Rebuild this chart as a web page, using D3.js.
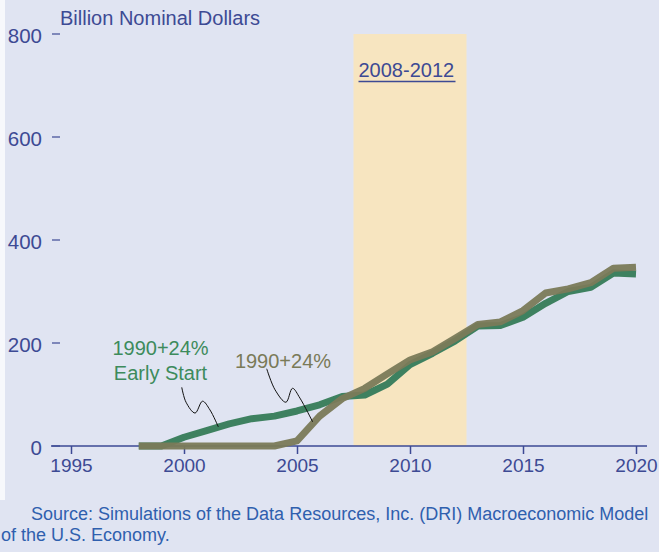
<!DOCTYPE html>
<html>
<head>
<meta charset="utf-8">
<script src="https://cdn.jsdelivr.net/npm/d3@7"></script>
<style>
  body { margin: 0; background: #ffffff; }
  svg { display: block; font-family: "Liberation Sans", Arial, sans-serif; }
</style>
</head>
<body>
<svg id="canvas"></svg>
<script>
// data
let years = d3.range(1998, 2021)
let earlyStart = [0, 0, 17, 30, 43, 53, 58, 68, 80, 96, 99, 120, 158, 180, 204, 233, 234, 250, 277, 300, 308, 336, 334]
let base = [0, 0, 0, 0, 0, 0, 0, 10, 58, 92, 112, 140, 167, 183, 209, 236, 241, 263, 297, 305, 317, 345, 347]
let yTicks = [0, 200, 400, 600, 800]
let xTicks = [1995, 2000, 2005, 2010, 2015, 2020]
let period = [2007.5, 2012.5]

// leader lines for the labels, in year / value units
let leaderEarly = [[1999.90, 114], [2000.09, 85], [2000.49, 64], [2000.82, 87], [2001.15, 70], [2001.52, 37]]
let leaderBase = [[2003.66, 150], [2004.03, 109], [2004.51, 85], [2004.80, 112], [2005.13, 93], [2005.69, 47]]

const width = 659
const height = 552

let canvas = d3.select('#canvas')
canvas.attr('width', width)
canvas.attr('height', height)

const axisColor = '#3d4a94'
const greenColor = '#3e8160'
const oliveColor = '#7a7a58'

let xScale = d3.scaleLinear().domain([1995, 2020]).range([71, 636])
let yScale = d3.scaleLinear().domain([0, 800]).range([446, 34])

// background
canvas.append('rect').attr('width', width).attr('height', height).attr('fill', '#e0e4f2')
canvas.append('rect').attr('width', 5).attr('height', 500).attr('fill', '#f7f8fc')

// shaded period
canvas.append('rect')
    .attr('x', xScale(period[0]))
    .attr('y', yScale(800))
    .attr('width', xScale(period[1]) - xScale(period[0]))
    .attr('height', yScale(0) - yScale(800))
    .attr('fill', '#f7e5c0')

canvas.append('text')
    .attr('x', xScale(period[0]) + 5)
    .attr('y', 77)
    .attr('fill', axisColor)
    .attr('font-size', 20)
    .text('2008-2012')
canvas.append('line')
    .attr('x1', xScale(period[0]) + 5)
    .attr('x2', xScale(period[0]) + 102)
    .attr('y1', 81.5).attr('y2', 81.5)
    .attr('stroke', axisColor).attr('stroke-width', 1.5)

// y axis: short dashes and labels only
let yAxis = canvas.append('g')
yAxis.selectAll('line')
    .data(yTicks)
    .enter()
    .append('line')
    .attr('x1', 52).attr('x2', 60)
    .attr('y1', (d) => yScale(d)).attr('y2', (d) => yScale(d))
    .attr('stroke', axisColor).attr('stroke-width', 1.2)
yAxis.selectAll('text')
    .data(yTicks)
    .enter()
    .append('text')
    .attr('x', 42)
    .attr('y', (d) => yScale(d) + 9)
    .attr('text-anchor', 'end')
    .attr('fill', axisColor)
    .attr('font-size', 20.5)
    .text((d) => d)

canvas.append('text')
    .attr('x', 60).attr('y', 25)
    .attr('fill', axisColor)
    .attr('font-size', 20)
    .text('Billion Nominal Dollars')

// x axis
let xAxis = d3.axisBottom(xScale).tickValues(xTicks).tickFormat(d3.format('d')).tickSize(8).tickPadding(5)
let gx = canvas.append('g')
    .attr('transform', 'translate(0,' + yScale(0) + ')')
    .call(xAxis)
gx.select('.domain').remove()
gx.selectAll('line').attr('stroke', axisColor).attr('stroke-width', 1.5)
gx.selectAll('text').attr('fill', axisColor).attr('font-size', 19).attr('font-family', '"Liberation Sans", Arial, sans-serif')
canvas.append('line')
    .attr('x1', 51).attr('x2', 647)
    .attr('y1', yScale(0)).attr('y2', yScale(0))
    .attr('stroke', axisColor).attr('stroke-width', 1.5)

// series
let line = d3.line()
    .x((d, i) => xScale(years[i]))
    .y((d) => yScale(d))

canvas.append('path')
    .datum(earlyStart)
    .attr('d', line)
    .attr('fill', 'none')
    .attr('stroke', greenColor)
    .attr('stroke-width', 7)
    .attr('stroke-linejoin', 'round')

canvas.append('path')
    .datum(base)
    .attr('d', line)
    .attr('fill', 'none')
    .attr('stroke', oliveColor)
    .attr('stroke-width', 7)
    .attr('stroke-linejoin', 'round')
    .attr('opacity', 0.95)

// labels with leader lines
let leader = d3.line()
    .x((d) => xScale(d[0]))
    .y((d) => yScale(d[1]))
    .curve(d3.curveCatmullRom)

canvas.append('path').datum(leaderEarly).attr('d', leader)
    .attr('fill', 'none').attr('stroke', '#111').attr('stroke-width', 1)
canvas.append('path').datum(leaderBase).attr('d', leader)
    .attr('fill', 'none').attr('stroke', '#111').attr('stroke-width', 1)

canvas.append('text')
    .attr('x', xScale(1998.96)).attr('y', 355)
    .attr('text-anchor', 'middle')
    .attr('fill', '#3d8b5c')
    .attr('font-size', 20)
    .text('1990+24%')
canvas.append('text')
    .attr('x', xScale(1998.96)).attr('y', 380)
    .attr('text-anchor', 'middle')
    .attr('fill', '#3d8b5c')
    .attr('font-size', 20)
    .text('Early Start')
canvas.append('text')
    .attr('x', xScale(2004.38)).attr('y', 368)
    .attr('text-anchor', 'middle')
    .attr('fill', oliveColor)
    .attr('font-size', 20)
    .text('1990+24%')

// source note
canvas.append('text')
    .attr('x', 31).attr('y', 520)
    .attr('fill', '#2f5fae')
    .attr('font-size', 18)
    .text('Source: Simulations of the Data Resources, Inc. (DRI) Macroeconomic Model')
canvas.append('text')
    .attr('x', 1).attr('y', 541)
    .attr('fill', '#2f5fae')
    .attr('font-size', 18)
    .text('of the U.S. Economy.')
</script>
</body>
</html>
